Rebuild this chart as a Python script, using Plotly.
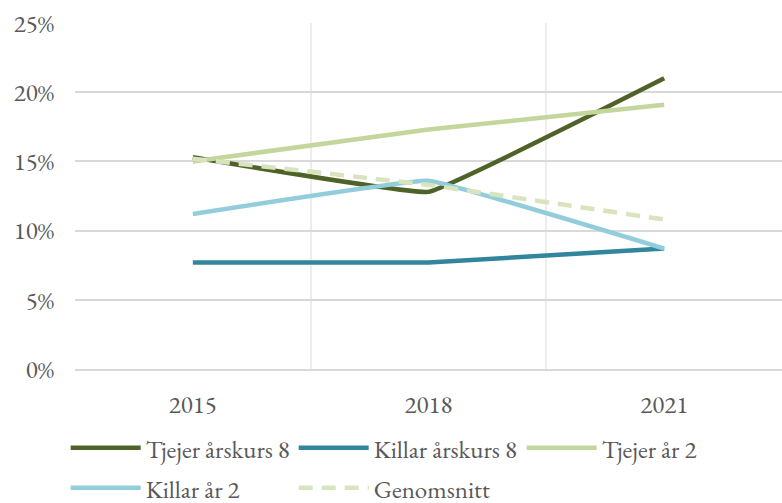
import plotly.graph_objects as go

years = ["2015", "2018", "2021"]
tjejer_ak8 = [0.153, 0.128, 0.210]
killar_ak8 = [0.077, 0.077, 0.087]
tjejer_ar2 = [0.150, 0.173, 0.191]
killar_ar2 = [0.112, 0.136, 0.087]
genomsnitt = [0.152, 0.133, 0.108]
y_ticks = [0, 0.05, 0.10, 0.15, 0.20, 0.25]
y_labels = ["0%", "5%", "10%", "15%", "20%", "25%"]

series = [
    ("Tjejer årskurs 8", tjejer_ak8, "#4F6228", "solid", "legend"),
    ("Killar årskurs 8", killar_ak8, "#31859C", "solid", "legend"),
    ("Tjejer år 2", tjejer_ar2, "#C3D69B", "solid", "legend"),
    ("Killar år 2", killar_ar2, "#92CDDC", "solid", "legend2"),
    ("Genomsnitt", genomsnitt, "#D7E4BD", "14px,9px", "legend2"),
]

font_family = "Garamond, 'EB Garamond', 'Liberation Serif', 'DejaVu Serif', serif"
fs = 25

fig = go.Figure()
for name, vals, color, dash, leg in series:
    fig.add_trace(go.Scatter(
        x=years, y=vals, name=name, mode="lines", legend=leg,
        line=dict(color=color, width=4.5, dash=dash, shape="spline", smoothing=0.2),
    ))

leg_common = dict(
    orientation="h", xref="container", yref="container",
    x=0.084, xanchor="left", yanchor="middle",
    entrywidth=143, entrywidthmode="pixels",
    font=dict(family=font_family, size=fs, color="#595959"),
    itemwidth=70, bgcolor="rgba(0,0,0,0)",
)

fig.update_layout(
    width=782, height=503,
    margin=dict(l=75, r=0, t=23, b=134, autoexpand=False),
    paper_bgcolor="white", plot_bgcolor="white",
    font=dict(family=font_family, size=fs, color="#595959"),
    showlegend=True,
    legend=dict(leg_common, y=1 - 448 / 503),
    legend2=dict(leg_common, y=1 - 488 / 503),
)
fig.update_xaxes(
    type="category", range=[-0.5, 2.5], tickson="boundaries", showgrid=True,
    gridcolor="#EDEDED", gridwidth=1.5,
    ticks="", showline=True, linecolor="#D9D9D9", linewidth=1.5,
    tickfont=dict(size=fs, color="#595959"), ticklabelstandoff=12,
)
fig.update_yaxes(
    range=[0, 0.25], tickvals=y_ticks, ticktext=y_labels,
    showgrid=True, gridcolor="#D9D9D9", gridwidth=1.5, zeroline=False,
    ticks="", tickfont=dict(size=fs, color="#595959"), ticklabelstandoff=20,
)

fig.write_html(
    "out.html",
    config={"displayModeBar": False},
    post_script="document.body.style.margin='0';document.body.style.overflow='hidden';",
)
